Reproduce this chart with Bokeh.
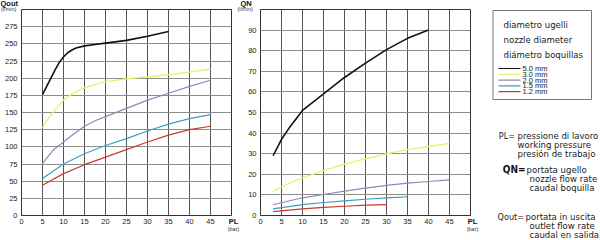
from bokeh.plotting import figure
from bokeh.models import Range1d, FixedTicker
from bokeh.layouts import row, column
from bokeh.embed import file_html
from bokeh.resources import INLINE
from bokeh.core.properties import value

NARROW = "DejaVu Sans Condensed"
SANS = "Liberation Sans"

nozzle_labels = ["5.0 mm", "3.0 mm", "2.0 mm", "1.5 mm", "1.2 mm"]
nozzle_colors = ["#111111", "#f0ee70", "#8e88b6", "#3d9dc4", "#cc3737"]
nozzle_widths = [1.6, 1.4, 1.2, 1.2, 1.2]

# Qout: outlet flow rate (l/min) against working pressure PL (bar)
qout_pl_50 = [5, 6, 7, 8, 9, 10, 11, 12, 13, 15, 17.5, 20, 25, 30, 35]
qout_50 = [176, 188, 200, 212, 223, 231, 237, 241, 244, 247, 249, 251, 255, 261, 268]
qout_pl_30 = [5, 6, 7.5, 10, 12.5, 15, 20, 25, 30, 35, 40, 45]
qout_30 = [128, 138, 150, 168, 179, 186, 195, 199, 202, 205, 209, 213]
qout_pl_20 = [5, 7.5, 10, 12.5, 15, 17.5, 20, 25, 30, 35, 40, 45]
qout_20 = [76, 95, 107, 119, 130, 138, 144, 156, 168, 178, 188, 197]
qout_pl_15 = [5, 10, 15, 20, 25, 30, 35, 40, 45]
qout_15 = [54, 75, 90, 102, 112, 123, 133, 141, 147]
qout_pl_12 = [5, 10, 15, 20, 25, 30, 35, 40, 45]
qout_12 = [44, 61, 74, 85, 96, 107, 117, 125, 130]

# QN: nozzle flow rate (l/min) against working pressure PL (bar)
qn_pl_50 = [3, 5, 7, 10, 15, 20, 25, 30, 35, 40]
qn_50 = [29, 37, 43, 51, 59, 67, 74, 80.5, 86, 90]
qn_pl_30 = [3, 5, 10, 15, 20, 25, 30, 35, 40, 45]
qn_30 = [11.6, 14, 18.3, 21.8, 25, 27.5, 30, 32, 33.5, 35]
qn_pl_20 = [3, 10, 15, 20, 25, 30, 35, 40, 45]
qn_20 = [5.2, 8.6, 10.2, 11.8, 13.3, 14.6, 15.7, 16.5, 17.3]
qn_pl_15 = [3, 10, 15, 20, 25, 30, 35]
qn_15 = [3.2, 5.3, 6.3, 7.1, 7.9, 8.6, 9.1]
qn_pl_12 = [3, 10, 15, 20, 25, 30]
qn_12 = [1.9, 3.2, 3.9, 4.5, 5.0, 5.3]

pl_ticks = [0, 5, 10, 15, 20, 25, 30, 35, 40, 45]
qout_ticks = [0, 25, 50, 75, 100, 125, 150, 175, 200, 225, 250, 275]
qn_ticks = [0, 10, 20, 30, 40, 50, 60, 70, 80, 90]

legend_title = ["diametro ugelli", "nozzle diameter", "diámetro boquillas"]
pl_text = ["pressione di lavoro", "working pressure", "presión de trabajo"]
qn_text = ["portata ugello", "nozzle flow rate", "caudal boquilla"]
qout_text = ["portata in uscita", "outlet flow rate", "caudal en salida"]

FRAME_W = 210


def make_chart(width, left, y_max, y_ticks, series):
    p = figure(width=width, height=240, x_range=Range1d(0, 50), y_range=Range1d(0, y_max),
               output_backend="svg", toolbar_location=None,
               min_border_left=left, min_border_right=width - left - FRAME_W,
               min_border_top=9, min_border_bottom=25)
    p.background_fill_color = "white"
    p.border_fill_color = "white"
    p.outline_line_color = "#333333"
    p.outline_line_width = 1
    p.xaxis.ticker = FixedTicker(ticks=pl_ticks)
    p.yaxis.ticker = FixedTicker(ticks=y_ticks)
    for ax in (p.xaxis[0], p.yaxis[0]):
        ax.axis_line_color = None
        ax.major_tick_line_color = None
        ax.minor_tick_line_color = None
        ax.major_tick_out = 0
        ax.major_tick_in = 0
        ax.major_label_text_font = SANS
        ax.major_label_text_font_size = "7.5px"
        ax.major_label_text_color = "#222222"
    p.yaxis.major_label_standoff = 4
    p.xaxis.major_label_standoff = 3
    p.xgrid.ticker = FixedTicker(ticks=pl_ticks)
    p.ygrid.ticker = FixedTicker(ticks=y_ticks)
    p.xgrid.grid_line_color = "#555555"
    p.ygrid.grid_line_color = "#8c8c8c"
    p.xgrid.grid_line_width = 1
    p.ygrid.grid_line_width = 1

    for (xs, ys), color, lw in zip(series, nozzle_colors, nozzle_widths):
        p.line(xs, ys, line_color=color, line_width=lw)
    return p


left = make_chart(238, 21, 300, qout_ticks,
                  [(qout_pl_50, qout_50), (qout_pl_30, qout_30), (qout_pl_20, qout_20),
                   (qout_pl_15, qout_15), (qout_pl_12, qout_12)])
right = make_chart(242, 22, 100, qn_ticks,
                   [(qn_pl_50, qn_50), (qn_pl_30, qn_30), (qn_pl_20, qn_20),
                    (qn_pl_15, qn_15), (qn_pl_12, qn_12)])

# transparent sheet laid over the whole page: axis names, legend box and symbol key.
# Its frame fills the canvas, so its ranges are canvas pixels.
sheet = figure(width=600, height=240, x_range=Range1d(0, 600), y_range=Range1d(240, 0),
               output_backend="svg", toolbar_location=None,
               x_axis_location=None, y_axis_location=None,
               min_border_left=0, min_border_right=0, min_border_top=0, min_border_bottom=0)
sheet.grid.visible = False
sheet.outline_line_color = None
sheet.background_fill_alpha = 0
sheet.border_fill_alpha = 0
sheet.margin = (-240, 0, 0, 0)

# axis names in the chart corners
sheet.text(x=[0, 240], y=[3, 3], text=["Qout", "QN"], text_font=value(SANS), text_font_size="7.5px",
           text_font_style="bold", text_baseline="middle", text_color="#111111")
sheet.text(x=[0.5, 237], y=[8.5, 8.5], text=["(l/min)", "(l/min)"], text_font=value(SANS),
           text_font_size="5.5px", text_baseline="middle", text_color="#333333")
sheet.text(x=[233, 472], y=[221, 221], text=["PL", "PL"], text_font=value(SANS), text_font_size="7.5px",
           text_font_style="bold", text_align="center", text_baseline="middle", text_color="#111111")
sheet.text(x=[233, 472], y=[228.5, 228.5], text=["(bar)", "(bar)"], text_font=value(SANS),
           text_font_size="5.5px", text_align="center", text_baseline="middle", text_color="#333333")

# legend box
sheet.quad(left=492.5, right=591, top=10, bottom=99, fill_color=None, line_color="#777777", line_width=1)
sheet.text(x=[503] * 3, y=[24, 39, 53.5], text=legend_title, text_font=value(NARROW),
           text_font_size="9.5px", text_baseline="middle", text_color="#222222")
entry_y = [68, 73.8, 79.6, 85.4, 91.2]
sheet.segment(x0=[498] * 5, x1=[520] * 5, y0=entry_y, y1=entry_y, line_color=nozzle_colors, line_width=1.2)
sheet.text(x=[522] * 5, y=entry_y, text=nozzle_labels, text_font=value(SANS),
           text_font_size="7.5px", text_baseline="middle", text_color="#222222")

# symbol key
sheet.text(x=[514.5], y=[135], text=["PL="], text_font=value(NARROW), text_font_size="9px",
           text_align="right", text_baseline="middle", text_color="#222222")
sheet.text(x=[517] * 3, y=[135, 144, 153], text=pl_text, text_font=value(NARROW),
           text_font_size="9.5px", text_baseline="middle", text_color="#222222")
sheet.text(x=[525], y=[169], text=["QN="], text_font=value(NARROW), text_font_size="10px",
           text_font_style="bold", text_align="right", text_baseline="middle", text_color="#111111")
sheet.text(x=[526, 529, 529], y=[169, 178, 187], text=qn_text, text_font=value(NARROW),
           text_font_size="9.5px", text_baseline="middle", text_color="#222222")
sheet.text(x=[523.5], y=[216], text=["Qout="], text_font=value(NARROW), text_font_size="9px",
           text_align="right", text_baseline="middle", text_color="#222222")
sheet.text(x=[525, 529, 529], y=[216, 225, 233.5], text=qout_text, text_font=value(NARROW),
           text_font_size="9.5px", text_baseline="middle", text_color="#222222")

layout = column(row(left, right), sheet)
open("out.html", "w").write(file_html(layout, INLINE))
